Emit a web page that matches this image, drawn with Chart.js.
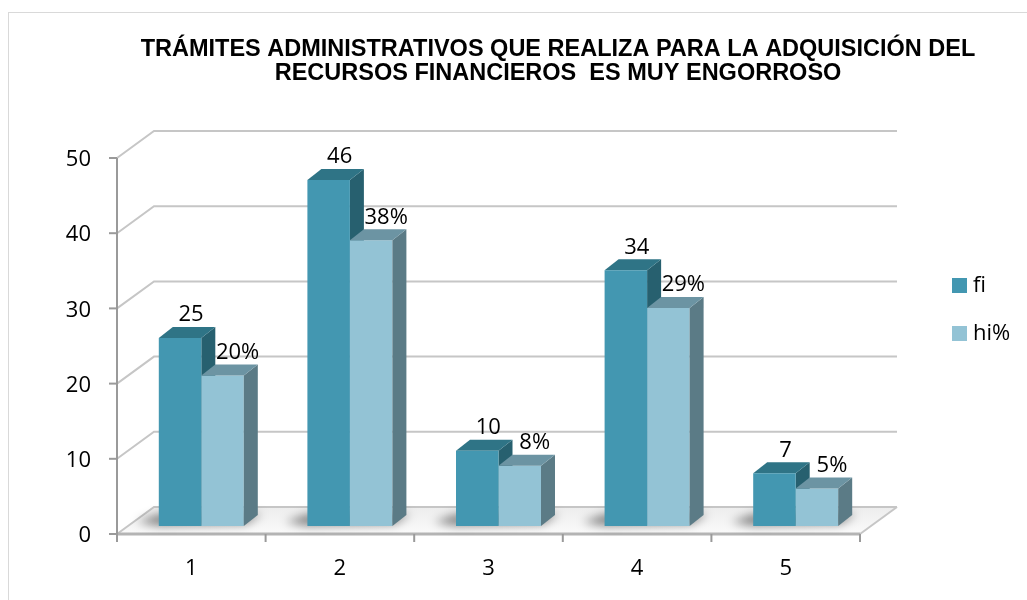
<!DOCTYPE html>
<html>
<head>
<meta charset="utf-8">
<script src="https://cdn.jsdelivr.net/npm/chart.js@4.4.1/dist/chart.umd.min.js"></script>
<style>
html,body{margin:0;padding:0;background:#fff;}
#wrap{position:relative;width:1027px;height:600px;}
</style>
</head>
<body>
<div id="wrap"><canvas id="c" width="1027" height="600"></canvas></div>
<script>
const categories = ['1', '2', '3', '4', '5'];
const fiValues = [25, 46, 10, 34, 7];
const hiValues = [20, 38, 8, 29, 5];
const seriesNames = ['fi', 'hi%'];
const yTicks = [0, 10, 20, 30, 40, 50];
const titleLines = ['TRÁMITES ADMINISTRATIVOS QUE REALIZA PARA LA ADQUISICIÓN DEL', 'RECURSOS FINANCIEROS  ES MUY ENGORROSO'];

const FRONT = {front: '#4397B1', top: '#2F7486', side: '#27606F'};
const LIGHT = {front: '#93C3D5', top: '#6C94A3', side: '#5B7B86'};
const FACES = [FRONT, LIGHT];
const DEPTH = {dx: 14, dy: -11};
const FOFF = {dx: -10, dy: 8};   // front axis plane offset
const BOFF = {dx: 27, dy: -19};  // back wall offset
const LABEL_FONT = '22px "Open Sans"';

function drawFaces(ctx, el, faces) {
  const l = el.x - el.width / 2, r = el.x + el.width / 2, t = el.y, b = el.base;
  ctx.fillStyle = faces.side;
  ctx.beginPath();
  ctx.moveTo(r, t); ctx.lineTo(r + DEPTH.dx, t + DEPTH.dy);
  ctx.lineTo(r + DEPTH.dx, b + DEPTH.dy); ctx.lineTo(r, b); ctx.closePath(); ctx.fill();
  ctx.fillStyle = faces.top;
  ctx.beginPath();
  ctx.moveTo(l, t); ctx.lineTo(l + DEPTH.dx, t + DEPTH.dy);
  ctx.lineTo(r + DEPTH.dx, t + DEPTH.dy); ctx.lineTo(r, t); ctx.closePath(); ctx.fill();
}

const frame3d = {
  id: 'frame3d',
  beforeDraw(chart) {
    const ctx = chart.ctx;
    ctx.save();
    ctx.strokeStyle = '#D9D9D9'; ctx.lineWidth = 1;
    ctx.strokeRect(8.5, 12.5, 1100, 700);
    ctx.restore();
  },
  beforeDatasetsDraw(chart) {
    const ctx = chart.ctx, ys = chart.scales.y;
    const a = chart.chartArea;
    const y0 = ys.getPixelForValue(0);
    ctx.save();
    // floor
    const g = ctx.createLinearGradient(0, y0 + BOFF.dy, 0, y0 + FOFF.dy);
    g.addColorStop(0, '#EDEDED'); g.addColorStop(1, '#FAFAFA');
    ctx.fillStyle = g;
    ctx.beginPath();
    ctx.moveTo(a.left + FOFF.dx, y0 + FOFF.dy);
    ctx.lineTo(a.right + FOFF.dx, y0 + FOFF.dy);
    ctx.lineTo(a.right + BOFF.dx, y0 + BOFF.dy);
    ctx.lineTo(a.left + BOFF.dx, y0 + BOFF.dy);
    ctx.closePath(); ctx.fill();
    // back wall grid + diagonals
    ctx.strokeStyle = '#C6C6C6'; ctx.lineWidth = 2;
    yTicks.forEach(v => {
      const y = ys.getPixelForValue(v);
      ctx.beginPath();
      ctx.moveTo(a.left + FOFF.dx, y + FOFF.dy);
      ctx.lineTo(a.left + BOFF.dx, y + BOFF.dy);
      ctx.lineTo(a.right + BOFF.dx, y + BOFF.dy);
      ctx.stroke();
    });
    // floor right edge
    ctx.beginPath();
    ctx.moveTo(a.right + FOFF.dx, y0 + FOFF.dy);
    ctx.lineTo(a.right + BOFF.dx, y0 + BOFF.dy);
    ctx.stroke();
    // front floor edge (slab)
    ctx.strokeStyle = '#B4B4B4'; ctx.lineWidth = 3;
    ctx.beginPath();
    ctx.moveTo(a.left + FOFF.dx, y0 + FOFF.dy);
    ctx.lineTo(a.right + FOFF.dx, y0 + FOFF.dy);
    ctx.stroke();
    // front vertical axis and ticks
    ctx.strokeStyle = '#9A9A9A'; ctx.lineWidth = 2;
    const ax = a.left + FOFF.dx;
    ctx.beginPath();
    ctx.moveTo(ax, ys.getPixelForValue(50) + FOFF.dy);
    ctx.lineTo(ax, y0 + FOFF.dy);
    ctx.stroke();
    yTicks.forEach(v => {
      const y = ys.getPixelForValue(v) + FOFF.dy;
      ctx.beginPath(); ctx.moveTo(ax - 8, y); ctx.lineTo(ax, y); ctx.stroke();
    });
    // x ticks at category boundaries
    const cw = (a.right - a.left) / categories.length;
    for (let i = 0; i <= categories.length; i++) {
      const x = a.left + i * cw + FOFF.dx;
      ctx.beginPath(); ctx.moveTo(x, y0 + FOFF.dy); ctx.lineTo(x, y0 + FOFF.dy + 8); ctx.stroke();
    }
    // shadows
    const m0 = chart.getDatasetMeta(0), m1 = chart.getDatasetMeta(1);
    ctx.filter = 'blur(5px)';
    ctx.fillStyle = 'rgba(0,0,0,0.45)';
    m0.data.forEach((el, i) => {
      const el2 = m1.data[i];
      const l = el.x - el.width / 2, r = el2.x + el2.width / 2;
      ctx.beginPath();
      ctx.moveTo(l - 22, el.base - 4);
      ctx.lineTo(l, el.base - 12);
      ctx.lineTo(r + 18, el.base - 12);
      ctx.lineTo(r + 2, el.base - 2);
      ctx.lineTo(l, el.base);
      ctx.closePath(); ctx.fill();
    });
    ctx.filter = 'none';
    // fi side/top faces first (hidden behind hi front where overlapping)
    m0.data.forEach(el => drawFaces(ctx, el, FACES[0]));
    ctx.restore();
  },
  afterDatasetDraw(chart, args) {
    if (args.index !== 1) return;
    const ctx = chart.ctx;
    ctx.save();
    chart.getDatasetMeta(1).data.forEach(el => drawFaces(ctx, el, FACES[1]));
    ctx.restore();
  },
  afterDatasetsDraw(chart) {
    const ctx = chart.ctx;
    ctx.save();
    ctx.font = LABEL_FONT;
    ctx.fillStyle = '#000';
    ctx.textAlign = 'center';
    ctx.textBaseline = 'middle';
    chart.getDatasetMeta(0).data.forEach((el, i) => {
      ctx.fillText(String(fiValues[i]), el.x + 11, el.y + DEPTH.dy - 12);
    });
    chart.getDatasetMeta(1).data.forEach((el, i) => {
      ctx.fillText(hiValues[i] + '%', el.x + 15, el.y + DEPTH.dy - 12);
    });
    // legend
    chart.data.datasets.forEach((ds, i) => {
      const y = 278 + i * 48;
      ctx.fillStyle = ds.backgroundColor;
      ctx.fillRect(952, y, 15, 15);
      ctx.fillStyle = '#000';
      ctx.textAlign = 'left';
      ctx.fillText(ds.label, 973, y + 8);
    });
    ctx.restore();
  }
};

new Chart(document.getElementById('c'), {
  type: 'bar',
  data: {
    labels: categories,
    datasets: [
      {label: seriesNames[0], data: fiValues, backgroundColor: FRONT.front, borderWidth: 0},
      {label: seriesNames[1], data: hiValues, backgroundColor: LIGHT.front, borderWidth: 0}
    ]
  },
  options: {
    responsive: false,
    animation: false,
    devicePixelRatio: 1,
    layout: {padding: {left: 0, right: -89, top: 0, bottom: 0}},
    datasets: {bar: {categoryPercentage: 0.572, barPercentage: 1}},
    plugins: {
      legend: {display: false},
      tooltip: {enabled: false},
      title: {
        display: true,
        text: titleLines,
        color: '#000',
        font: {family: '"Liberation Sans", Arial, sans-serif', size: 23.5, weight: 'bold', lineHeight: 1.0},
        padding: {top: 38, bottom: 65}
      }
    },
    scales: {
      x: {
        grid: {display: false, drawTicks: false},
        border: {display: false},
        ticks: {color: '#000', font: {family: '"Open Sans"', size: 22}, padding: 30, labelOffset: -10},
        afterFit: s => { s.height = 74; }
      },
      y: {
        min: 0, max: 50,
        grid: {display: false, drawTicks: false},
        border: {display: false},
        ticks: {stepSize: 10, color: '#000', font: {family: '"Open Sans"', size: 22}, padding: 36, labelOffset: 10},
        afterFit: s => { s.width = 127; }
      },
      yRight: {
        type: 'linear', position: 'right', display: true,
        grid: {display: false, drawTicks: false},
        border: {display: false},
        ticks: {display: false},
        afterFit: s => { s.width = 246; }
      }
    }
  },
  plugins: [frame3d]
});
</script>
</body>
</html>
